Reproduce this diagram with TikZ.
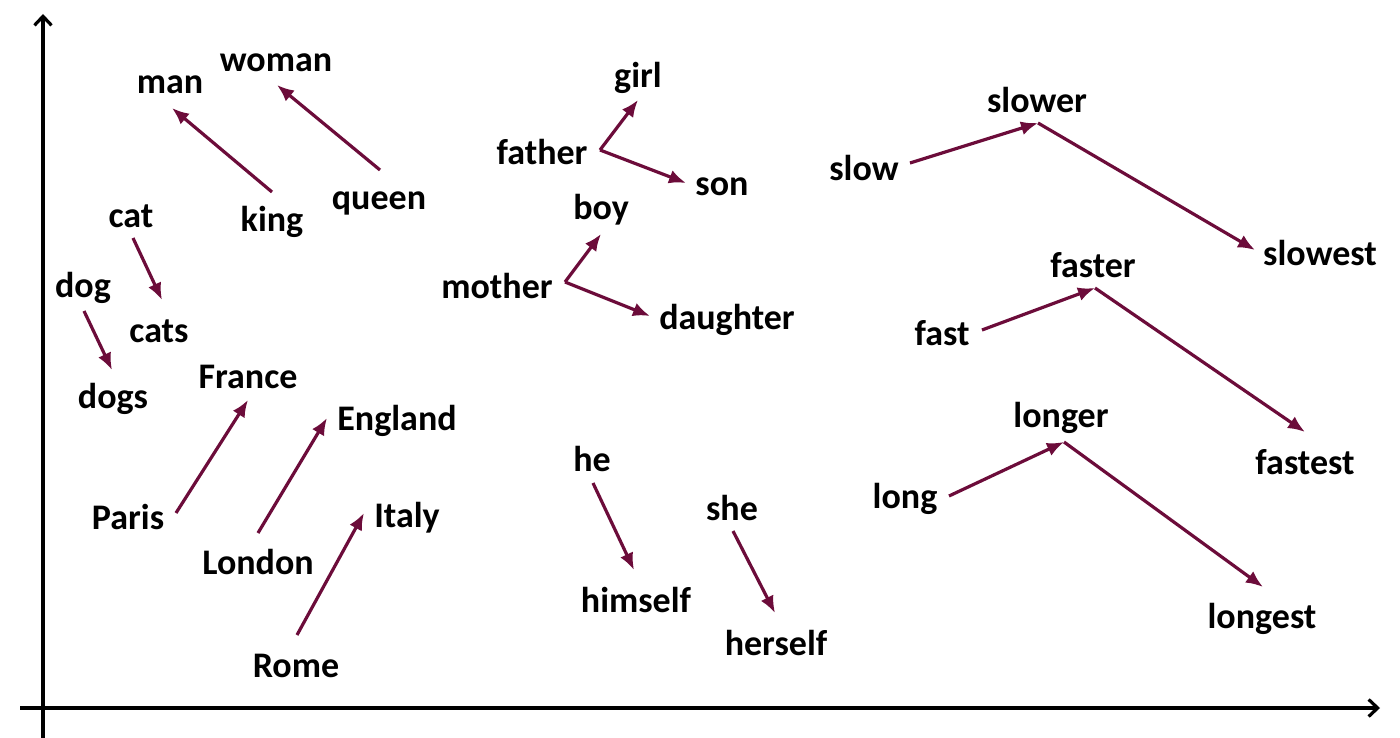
\documentclass[tikz,border=0pt]{standalone}
\usepackage{fontspec}
\setmainfont{Carlito}
\usetikzlibrary{arrows.meta}
\definecolor{arr}{RGB}{108,12,58}
\begin{document}
\begin{tikzpicture}[x=1pt,y=-1pt,
  word/.style={inner sep=0pt,font=\fontsize{36}{40}\selectfont\bfseries},
  vec/.style={draw=arr,line width=3.2pt,-{Latex[length=17pt,width=14pt]}},
  axis/.style={draw=black,line width=3.2pt,-{Straight Barb[length=9pt,width=17pt,line width=3.2pt]}}]
\useasboundingbox (0,0) rectangle (1400,738);
% axes
\coordinate (yb) at (43,738); \coordinate (yt) at (43,14);
\coordinate (xl) at (20,708); \coordinate (xr) at (1380,708);
\draw[axis] (yb) -- (yt);
\draw[axis] (xl) -- (xr);
% words
\node[word] (man) at (170,85) {man};
\node[word] (woman) at (276,63) {woman};
\node[word] (king) at (272,222) {king};
\node[word] (queen) at (379,203) {queen};
\node[word] (cat) at (131,216) {cat};
\node[word] (dog) at (83,288) {dog};
\node[word] (cats) at (159,331) {cats};
\node[word] (dogs) at (113,399) {dogs};
\node[word] (France) at (248,377) {France};
\node[word] (England) at (397,421) {England};
\node[word] (Paris) at (128,517) {Paris};
\node[word] (London) at (258,562) {London};
\node[word] (Italy) at (407,518) {Italy};
\node[word] (Rome) at (296,666) {Rome};
\node[word] (girl) at (638,78) {girl};
\node[word] (father) at (542,152) {father};
\node[word] (son) at (722,187) {son};
\node[word] (boy) at (601,210) {boy};
\node[word] (mother) at (497,286) {mother};
\node[word] (daughter) at (727,320) {daughter};
\node[word] (he) at (592,459) {he};
\node[word] (she) at (732,508) {she};
\node[word] (himself) at (636,600) {himself};
\node[word] (herself) at (776,643) {herself};
\node[word] (slower) at (1037,100) {slower};
\node[word] (slow) at (864,168) {slow};
\node[word] (slowest) at (1320,253) {slowest};
\node[word] (faster) at (1093,265) {faster};
\node[word] (fast) at (942,333) {fast};
\node[word] (fastest) at (1305,462) {fastest};
\node[word] (longer) at (1061,418) {longer};
\node[word] (long) at (905,499) {long};
\node[word] (longest) at (1262,619) {longest};
% arrow end points
\coordinate (kingS) at (272,192); \coordinate (manE) at (172,108);
\coordinate (queenS) at (380,170); \coordinate (womanE) at (277,85);
\coordinate (catS) at (133,238); \coordinate (catsE) at (162,300);
\coordinate (dogS) at (84,311); \coordinate (dogsE) at (112,370);
\coordinate (ParisS) at (176,513); \coordinate (FranceE) at (248,400);
\coordinate (LondonS) at (258,533); \coordinate (EnglandE) at (327,418);
\coordinate (RomeS) at (297,635); \coordinate (ItalyE) at (364,513);
\coordinate (fatherS) at (600,150); \coordinate (girlE) at (638,100); \coordinate (sonE) at (686,183);
\coordinate (motherS) at (565,282); \coordinate (boyE) at (601,234); \coordinate (daughterE) at (650,316);
\coordinate (heS) at (593,483); \coordinate (himselfE) at (634,570);
\coordinate (sheS) at (733,531); \coordinate (herselfE) at (775,613);
\coordinate (slowS) at (910,163); \coordinate (slowerP) at (1038,123); \coordinate (slowestE) at (1255,250);
\coordinate (fastS) at (982,330); \coordinate (fasterP) at (1095,288); \coordinate (fastestE) at (1305,432);
\coordinate (longS) at (949,496); \coordinate (longerP) at (1064,442); \coordinate (longestE) at (1263,587);
% arrows
\draw[vec] (kingS) -- (manE);
\draw[vec] (queenS) -- (womanE);
\draw[vec] (catS) -- (catsE);
\draw[vec] (dogS) -- (dogsE);
\draw[vec] (ParisS) -- (FranceE);
\draw[vec] (LondonS) -- (EnglandE);
\draw[vec] (RomeS) -- (ItalyE);
\draw[vec] (fatherS) -- (girlE);
\draw[vec] (fatherS) -- (sonE);
\draw[vec] (motherS) -- (boyE);
\draw[vec] (motherS) -- (daughterE);
\draw[vec] (heS) -- (himselfE);
\draw[vec] (sheS) -- (herselfE);
\draw[vec] (slowS) -- (slowerP);
\draw[vec] (slowerP) -- (slowestE);
\draw[vec] (fastS) -- (fasterP);
\draw[vec] (fasterP) -- (fastestE);
\draw[vec] (longS) -- (longerP);
\draw[vec] (longerP) -- (longestE);
\end{tikzpicture}
\end{document}
